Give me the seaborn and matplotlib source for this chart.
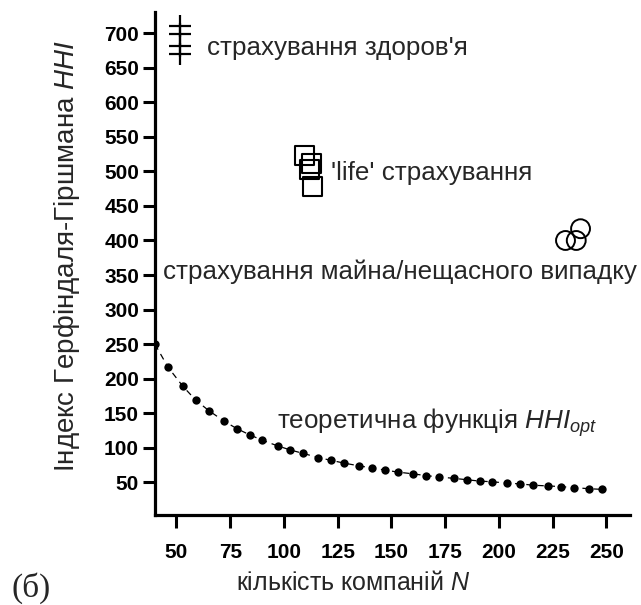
import matplotlib
matplotlib.use("Agg")
import matplotlib.pyplot as plt
import seaborn as sns
import pandas as pd

# ---- data ----
theory_n = [40, 46, 53, 59, 65, 72, 78, 84, 90, 97, 103, 109, 116, 122, 128, 135, 141,
            147, 153, 160, 166, 172, 179, 185, 191, 197, 204, 210, 216, 223, 229, 235, 242, 248]
theory_hhi = [250, 217, 189, 169, 154, 139, 128, 119, 111, 103, 97, 92, 86, 82, 78, 74, 71,
              68, 65, 62.5, 60, 58, 56, 54, 52, 51, 49, 48, 46, 45, 44, 42.5, 41, 40]

health_n = [51.7, 51.7, 51.7, 51.7]
health_hhi = [710, 699, 681, 669]

life_n = [109.5, 113, 112, 113.4]
life_hhi = [523, 511, 503, 478]

property_n = [231, 236, 238]
property_hhi = [400, 400, 417]

x_ticks = [50, 75, 100, 125, 150, 175, 200, 225, 250]
y_ticks = [50, 100, 150, 200, 250, 300, 350, 400, 450, 500, 550, 600, 650, 700]

sns.set_style("ticks")
plt.rcParams['font.family'] = ['Liberation Sans', 'DejaVu Sans']
plt.rcParams['mathtext.fontset'] = 'custom'
plt.rcParams['mathtext.rm'] = 'Liberation Sans'
plt.rcParams['mathtext.it'] = 'Liberation Sans:italic'
plt.rcParams['mathtext.bf'] = 'Liberation Sans:bold'

fig = plt.figure(figsize=(6.41, 6.05), dpi=100)
ax = fig.add_axes([0.2418, 0.1488, 0.741, 0.832])

df_t = pd.DataFrame({"N": theory_n, "HHI": theory_hhi})
sns.lineplot(data=df_t, x="N", y="HHI", ax=ax, color="black", linewidth=0.9,
             linestyle=(0, (5, 4)), zorder=2)
sns.scatterplot(data=df_t, x="N", y="HHI", ax=ax, color="black", s=36,
                edgecolor="black", linewidth=0, zorder=3)

sns.scatterplot(x=health_n, y=health_hhi, ax=ax, marker="+", s=240, color="black",
                linewidth=1.6, zorder=3)
sns.scatterplot(x=life_n, y=life_hhi, ax=ax, marker="s", s=185, facecolor="none",
                edgecolor="black", linewidth=1.5, zorder=3)
sns.scatterplot(x=property_n, y=property_hhi, ax=ax, marker="o", s=185, facecolor="none",
                edgecolor="black", linewidth=1.4, zorder=3)

ax.set_xlim(40, 261)
ax.set_ylim(3, 731)
ax.set_xticks(x_ticks)
ax.set_yticks(y_ticks)
for lab in ax.get_xticklabels() + ax.get_yticklabels():
    lab.set_fontweight("bold")
ax.tick_params(axis="both", labelsize=15, width=2.2, color="black", labelcolor="black")
ax.tick_params(axis="x", length=9, pad=11)
ax.tick_params(axis="y", length=8.5, pad=3)

for side in ("top", "right"):
    ax.spines[side].set_visible(False)
for side in ("left", "bottom"):
    ax.spines[side].set_linewidth(2.3)
    ax.spines[side].set_color("black")

ax.set_xlabel("кількість компаній $\\mathit{N}$", fontsize=18, va="center")
ax.xaxis.set_label_coords(0.417, -0.135)
ax.set_ylabel("Індекс Герфіндаля-Гіршмана $\\mathit{HHI}$", fontsize=20, va="center")
ax.yaxis.set_label_coords(-0.185, 0.515)

ann_size = 18.7
ax.text(64.2, 679, "страхування здоров'я", fontsize=ann_size, va="center", ha="left")
ax.text(122, 498, "'life' страхування", fontsize=ann_size, va="center", ha="left")
ax.text(43.5, 355, "страхування майна/нещасного випадку", fontsize=ann_size,
        va="center", ha="left", clip_on=False)
ax.text(96.7, 136, "теоретична функція $\\mathit{HHI}_{\\mathit{opt}}$", fontsize=ann_size,
        va="center", ha="left")

fig.text(0.018, 0.028, "(б)", fontsize=24, family="Liberation Serif", va="center", ha="left")

fig.savefig("out.png", dpi=100)
